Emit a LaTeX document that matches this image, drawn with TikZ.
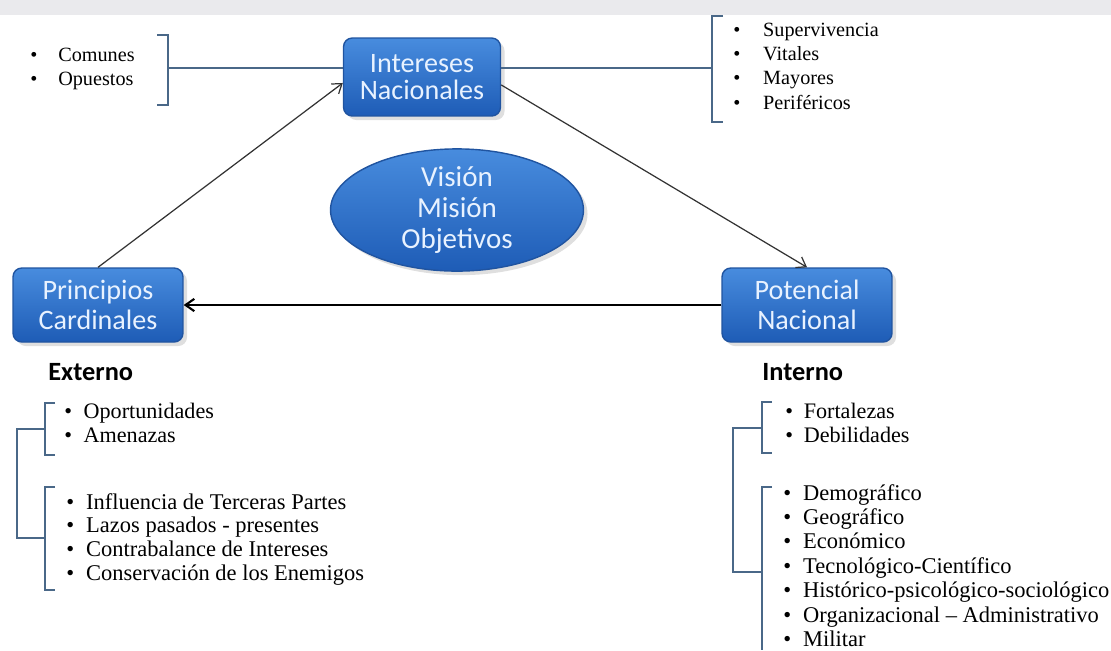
\documentclass[tikz,border=0pt]{standalone}
\usepackage{fontspec}
\setmainfont{Liberation Serif}
\newfontfamily\boxfont{Carlito}
\usetikzlibrary{shapes.geometric,shadows,arrows.meta}

\definecolor{boxtop}{RGB}{72,140,222}
\definecolor{boxbot}{RGB}{30,92,182}
\definecolor{boxedge}{RGB}{32,84,160}
\definecolor{boxtext}{RGB}{232,242,255}
\definecolor{brk}{RGB}{74,104,136}
\definecolor{band}{RGB}{234,234,237}

% list of bullet items: #1 = gap from bullet to text, #2 = rows
\newcommand{\lista}[2]{\begin{tabular}[t]{@{}p{#1}@{}l@{}}#2\end{tabular}}

\begin{document}
\begin{tikzpicture}[x=0.02cm, y=-0.02cm,
	box/.style={rectangle, rounded corners=5pt, draw=boxedge, line width=0.8pt,
		top color=boxtop, bottom color=boxbot, text=boxtext, align=center, inner sep=0pt,
		font=\boxfont\fontsize{16}{17}\selectfont, drop shadow={opacity=0.25}},
	lst/.style={anchor=base west, inner sep=0pt, font=\fontsize{11.5}{13.9}\selectfont},
	head/.style={anchor=west, inner sep=0pt, font=\boxfont\bfseries\fontsize{15}{17}\selectfont},
	bracket/.style={draw=brk, line width=1pt},
	arrow/.style={draw=black!80, line width=0.7pt, -{Straight Barb[length=5pt,width=7pt]}}]
	\useasboundingbox (0,0) rectangle (1111,650);
	\fill[band] (0,0) rectangle (1111,15);

	% main nodes
	\node (IN) at (422, 77)	[box, minimum width=3.14cm, minimum height=1.56cm,
		font=\boxfont\fontsize{16}{15.5}\selectfont]	{Intereses\\Nacionales};
	\node (PC) at ( 98,305)	[box, minimum width=3.4cm, minimum height=1.48cm]	{Principios\\Cardinales};
	\node (PN) at (807,305)	[box, minimum width=3.4cm, minimum height=1.48cm]	{Potencial\\Nacional};
	\node (VM) at (457,210)	[box, ellipse, minimum width=5.06cm, minimum height=2.3cm,
		font=\boxfont\fontsize{16.5}{17.5}\selectfont]	{Visión\\Misión\\Objetivos};

	\draw[arrow] (PC.north) -- ([yshift=-3.4pt]IN.west);
	\draw[arrow] ([yshift=-4.5pt]IN.east) -- (PN.north);
	\draw[arrow, draw=black, line width=1.2pt] (PN.west) -- (PC.east);

	% intereses
	\node (CO) at ( 30, 61)	[lst]	{\lista{15.9pt}{\textbullet & Comunes\\ \textbullet & Opuestos}};
	\node (SU) at (733, 36)	[lst]	{\lista{17pt}{\textbullet & Supervivencia\\ \textbullet & Vitales\\ \textbullet & Mayores\\ \textbullet & Periféricos}};
	\coordinate (b1) at (168, 68);
	\coordinate (b2) at (712, 68);
	\draw[bracket] (157,35) -- (168,35) -- (168,105) -- (157,105);
	\draw[bracket] (723,16) -- (712,16) -- (712,122) -- (723,122);
	\draw[bracket] (b1) -- (b1 -| IN.west);
	\draw[bracket] (IN.east |- b2) -- (b2);

	% externo
	\node (EX) at ( 48,372)	[head]	{Externo};
	\node (OP) at ( 64,418)	[lst, font=\fontsize{12.6}{13.9}\selectfont]	{\lista{11pt}{\textbullet & Oportunidades\\ \textbullet & Amenazas}};
	\node (IF) at ( 66,509)	[lst, font=\fontsize{12.8}{13.6}\selectfont]	{\lista{11.3pt}{\textbullet & Influencia de Terceras Partes\\ \textbullet & Lazos pasados - presentes\\
		\textbullet & Contrabalance de Intereses\\ \textbullet & Conservación de los Enemigos}};
	\draw[bracket] (55,403) -- (45,403) -- (45,455) -- (55,455);
	\draw[bracket] (55,487) -- (45,487) -- (45,590) -- (55,590);
	\draw[bracket] (45,429) -- (17,429) -- (17,538) -- (45,538);

	% interno
	\node (IT) at (762,372)	[head]	{Interno};
	\node (FO) at (785,418)	[lst, font=\fontsize{12.6}{13.9}\selectfont]	{\lista{10.5pt}{\textbullet & Fortalezas\\ \textbullet & Debilidades}};
	\node (DE) at (783,500)	[lst, font=\fontsize{12.8}{13.9}\selectfont]	{\lista{11.3pt}{\textbullet & Demográfico\\ \textbullet & Geográfico\\ \textbullet & Económico\\
		\textbullet & Tecnológico-Científico\\ \textbullet & Histórico-psicológico-sociológico\\
		\textbullet & Organizacional -- Administrativo\\ \textbullet & Militar}};
	\draw[bracket] (772,402) -- (762,402) -- (762,453) -- (772,453);
	\draw[bracket] (772,487) -- (762,487) -- (762,650);
	\draw[bracket] (762,428) -- (733,428) -- (733,572) -- (762,572);
\end{tikzpicture}
\end{document}
